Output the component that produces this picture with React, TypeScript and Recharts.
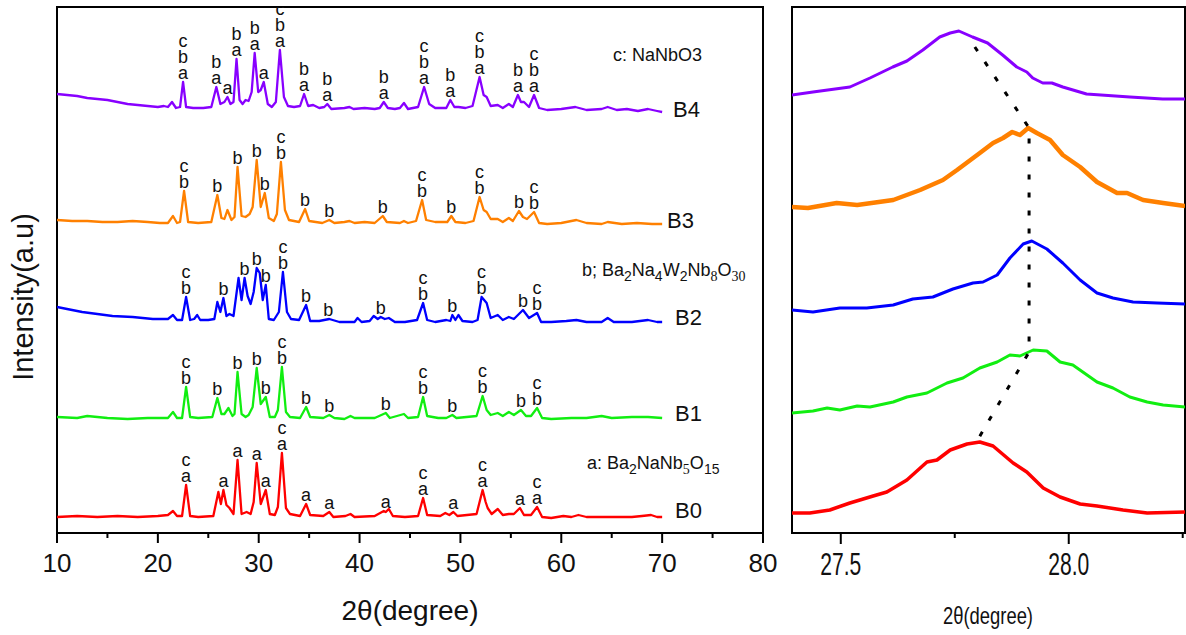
import React from 'react';
import { ComposedChart, Line, Scatter, XAxis, YAxis, ReferenceArea } from 'recharts';

type Pt = [number, number];
type Tag = { x: number; y: number; tag: string };

const SANS = "'Liberation Sans', Arial, sans-serif";

// full scans, 2θ vs stacked intensity (a.u.)
const b4Scan: Pt[] = [
  [10, 438], [11, 437], [12, 436], [13, 434], [14, 433], [15, 432], [16, 430], [17, 428], [18, 427], [19, 426],
  [20, 425], [20.6, 426], [21.0, 425], [21.4, 430], [21.8, 424], [22.2, 425], [22.5, 450], [22.8, 425], [23.5, 424],
  [24.5, 424], [25.3, 425], [25.8, 445], [26.2, 428], [26.6, 430], [26.9, 435], [27.2, 428], [27.5, 430], [27.8, 473],
  [28.1, 432], [28.4, 428], [28.7, 432], [29.0, 431], [29.3, 440], [29.6, 479], [29.95, 440], [30.2, 442], [30.5, 450],
  [30.9, 428], [31.3, 425], [31.7, 430], [32.1, 482], [32.5, 435], [32.9, 426], [33.5, 425], [34.1, 426], [34.5, 438],
  [34.9, 426], [35.4, 427], [36.0, 424], [36.5, 425], [36.8, 428], [37.2, 423], [38.5, 424], [39.0, 425], [39.4, 423],
  [40.5, 424], [41.5, 423], [42.0, 424], [42.4, 430], [42.8, 424], [43.5, 423], [44.0, 424], [44.4, 429], [44.8, 423],
  [45.8, 425], [46.4, 445], [46.9, 428], [47.5, 424], [48.6, 424], [49.0, 432], [49.4, 425], [49.8, 425], [50.5, 424],
  [51.2, 426], [51.9, 455], [52.3, 437], [52.6, 435], [53.0, 426], [53.7, 427], [54.2, 424], [54.8, 428], [55.2, 425],
  [55.7, 437], [56.0, 430], [56.3, 430], [56.8, 425], [57.3, 437], [57.8, 424], [58.6, 422], [60.0, 423], [61.4, 425],
  [62.5, 422], [64.0, 423], [64.6, 425], [65.5, 422], [66.5, 423], [67.6, 421], [68.6, 423], [69.5, 421], [70, 420],
];

const b3Scan: Pt[] = [
  [10, 312], [11.5, 311], [13, 311], [14.5, 310], [16, 310], [17.5, 311], [19, 310], [20.2, 309], [21, 309], [21.5, 316],
  [21.9, 309], [22.2, 310], [22.6, 341], [23.0, 310], [24, 309], [25.3, 310], [25.9, 337], [26.3, 314], [26.6, 313],
  [26.9, 322], [27.3, 312], [27.6, 315], [27.9, 365], [28.3, 316], [28.7, 315], [29.1, 318], [29.4, 325], [29.8, 372],
  [30.2, 325], [30.6, 339], [31.0, 314], [31.5, 311], [31.8, 318], [32.2, 370], [32.6, 322], [33.0, 312], [34.0, 310],
  [34.6, 323], [35.0, 311], [36.3, 309], [37.0, 312], [37.5, 309], [38.5, 310], [39.0, 311], [39.5, 309], [40.5, 310],
  [41.5, 309], [42.3, 316], [42.7, 310], [44.0, 309], [44.4, 311], [44.8, 309], [45.6, 311], [46.2, 332], [46.6, 312],
  [47.5, 310], [48.7, 310], [49.1, 316], [49.5, 310], [50.5, 309], [51.3, 311], [51.9, 335], [52.3, 322], [52.6, 320],
  [53.0, 313], [53.7, 313], [54.2, 310], [54.8, 314], [55.2, 311], [55.8, 321], [56.2, 315], [56.6, 313], [57.3, 320],
  [57.8, 309], [58.6, 308], [60.0, 309], [61.5, 312], [62.5, 309], [64.0, 308], [64.6, 310], [66.0, 308], [67.5, 309],
  [69.0, 308], [70, 308],
];

const b2Scan: Pt[] = [
  [10, 225], [11, 223], [12.5, 220], [14, 218], [15.5, 216], [17.5, 215], [19.5, 213], [21.0, 213], [21.5, 217],
  [21.9, 212], [22.4, 212], [22.8, 235], [23.2, 212], [23.6, 213], [23.9, 217], [24.2, 212], [25.0, 212], [25.6, 213],
  [25.9, 230], [26.2, 220], [26.5, 234], [26.8, 216], [27.1, 218], [27.5, 216], [28.0, 254], [28.3, 232], [28.6, 254],
  [28.9, 236], [29.2, 228], [29.5, 240], [29.8, 264], [30.1, 259], [30.4, 232], [30.7, 247], [31.0, 213], [31.5, 212],
  [32.0, 220], [32.4, 260], [32.8, 220], [33.2, 213], [34.0, 212], [34.7, 227], [35.1, 211], [36.0, 211], [37.0, 213],
  [38.0, 210], [39.5, 210], [39.8, 214], [40.2, 210], [41.0, 211], [41.4, 216], [41.8, 213], [42.1, 215], [42.5, 213],
  [42.9, 214], [43.5, 210], [44.5, 210], [45.7, 212], [46.3, 229], [46.7, 212], [47.5, 210], [48.6, 212], [49.0, 211],
  [49.2, 217], [49.5, 212], [49.8, 217], [50.2, 211], [51.2, 210], [51.7, 212], [52.1, 235], [52.6, 229], [53.0, 214],
  [53.7, 217], [54.2, 212], [54.8, 215], [55.3, 213], [56.2, 222], [56.8, 214], [57.6, 219], [58.0, 210], [59.0, 210],
  [60.5, 211], [61.5, 212], [62.5, 210], [64.0, 210], [64.6, 214], [65.2, 210], [67.0, 210], [68.6, 212], [69.5, 210],
  [70, 210],
];

const b1Scan: Pt[] = [
  [10, 115], [12, 114], [13, 116], [15, 114], [17, 113], [19, 114], [21.0, 114], [21.5, 120], [21.9, 114], [22.4, 114],
  [22.8, 145], [23.2, 115], [24.0, 114], [25.4, 115], [25.9, 134], [26.3, 118], [26.6, 118], [27.0, 124], [27.4, 116],
  [27.6, 118], [27.9, 160], [28.3, 118], [28.7, 115], [29.0, 117], [29.4, 125], [29.8, 164], [30.2, 128], [30.7, 135],
  [31.1, 115], [31.6, 115], [31.9, 122], [32.3, 165], [32.7, 120], [33.1, 115], [34.1, 114], [34.7, 125], [35.1, 115],
  [36.4, 114], [37.0, 117], [37.5, 114], [38.5, 113], [39.1, 116], [39.5, 114], [41.5, 114], [42.6, 119], [43.0, 114],
  [44.4, 118], [44.8, 114], [45.8, 115], [46.3, 135], [46.7, 116], [47.8, 114], [48.6, 114], [49.2, 117], [49.6, 114],
  [51.6, 116], [52.2, 136], [52.6, 122], [53.0, 117], [53.7, 119], [54.2, 116], [54.8, 120], [55.3, 117], [56.0, 122],
  [56.5, 116], [57.0, 116], [57.6, 124], [58.1, 114], [59.0, 113], [61.0, 114], [62.5, 114], [64.0, 116], [65.0, 114],
  [67.0, 115], [68.6, 115], [70, 114],
];

const b0Scan: Pt[] = [
  [10, 15], [12, 16], [14, 15], [16, 16], [18, 15], [20, 16], [21.0, 17], [21.5, 21], [21.9, 16], [22.4, 16], [22.8, 47],
  [23.2, 16], [24.0, 15], [25.5, 16], [26.0, 40], [26.25, 28], [26.5, 42], [26.8, 27], [27.1, 24], [27.5, 18], [27.9, 72],
  [28.3, 18], [28.8, 20], [29.2, 18], [29.5, 30], [29.8, 69], [30.2, 28], [30.7, 42], [31.1, 18], [31.6, 17], [31.9, 25],
  [32.3, 79], [32.7, 24], [33.1, 18], [34.1, 16], [34.7, 28], [35.1, 17], [36.4, 16], [37.0, 20], [37.4, 15], [38.6, 16],
  [39.1, 18], [39.5, 15], [41.5, 16], [42.4, 21], [42.6, 20], [42.9, 23], [43.3, 16], [44.5, 15], [45.8, 16], [46.3, 34],
  [46.7, 17], [48.0, 16], [48.5, 19], [48.9, 17], [49.3, 20], [49.7, 16], [51.6, 18], [52.2, 42], [52.5, 30], [52.7, 24],
  [53.1, 18], [53.7, 23], [54.2, 17], [54.8, 18], [55.3, 18], [55.9, 24], [56.3, 17], [57.0, 17], [57.6, 25], [58.1, 15],
  [59.0, 14], [60.2, 16], [61.0, 15], [61.7, 17], [62.5, 15], [64.0, 15], [65.5, 15], [67.0, 15], [68.0, 16], [68.9, 17],
  [69.5, 15], [70, 15],
];

// phase assignments (a, b, c) over the reflections
const b4Tags: Tag[] = [
  { x: 22.5, y: 450, tag: 'cba' }, { x: 25.8, y: 445, tag: 'ba' }, { x: 26.9, y: 435, tag: 'a' },
  { x: 27.8, y: 473, tag: 'ba' }, { x: 29.6, y: 479, tag: 'ba' }, { x: 30.5, y: 450, tag: 'a' },
  { x: 32.1, y: 482, tag: 'cba' }, { x: 34.5, y: 438, tag: 'ba' }, { x: 36.8, y: 428, tag: 'ba' },
  { x: 42.4, y: 430, tag: 'ba' }, { x: 46.4, y: 445, tag: 'cba' }, { x: 49.0, y: 432, tag: 'ba' },
  { x: 51.9, y: 455, tag: 'cba' }, { x: 55.7, y: 437, tag: 'ba' }, { x: 57.3, y: 437, tag: 'cba' },
];
const b3Tags: Tag[] = [
  { x: 22.6, y: 341, tag: 'cb' }, { x: 25.9, y: 337, tag: 'b' }, { x: 27.9, y: 365, tag: 'b' },
  { x: 29.8, y: 372, tag: 'b' }, { x: 30.6, y: 339, tag: 'b' }, { x: 32.2, y: 370, tag: 'cb' },
  { x: 34.6, y: 323, tag: 'b' }, { x: 37.0, y: 312, tag: 'b' }, { x: 42.3, y: 316, tag: 'b' },
  { x: 46.2, y: 332, tag: 'cb' }, { x: 49.1, y: 316, tag: 'b' }, { x: 51.9, y: 335, tag: 'cb' },
  { x: 55.8, y: 321, tag: 'b' }, { x: 57.3, y: 320, tag: 'cb' },
];
const b2Tags: Tag[] = [
  { x: 22.8, y: 235, tag: 'cb' }, { x: 26.5, y: 234, tag: 'b' }, { x: 28.6, y: 254, tag: 'b' },
  { x: 29.8, y: 264, tag: 'b' }, { x: 30.7, y: 247, tag: 'b' }, { x: 32.4, y: 260, tag: 'cb' },
  { x: 34.7, y: 227, tag: 'b' }, { x: 36.9, y: 213, tag: 'b' }, { x: 42.1, y: 215, tag: 'b' },
  { x: 46.3, y: 229, tag: 'cb' }, { x: 49.2, y: 217, tag: 'b' }, { x: 52.1, y: 235, tag: 'cb' },
  { x: 56.2, y: 222, tag: 'b' }, { x: 57.6, y: 219, tag: 'cb' },
];
const b1Tags: Tag[] = [
  { x: 22.8, y: 145, tag: 'cb' }, { x: 25.9, y: 134, tag: 'b' }, { x: 27.9, y: 160, tag: 'b' },
  { x: 29.8, y: 164, tag: 'b' }, { x: 30.7, y: 135, tag: 'b' }, { x: 32.3, y: 165, tag: 'cb' },
  { x: 34.7, y: 125, tag: 'b' }, { x: 37.0, y: 117, tag: 'b' }, { x: 42.6, y: 119, tag: 'b' },
  { x: 46.3, y: 135, tag: 'cb' }, { x: 49.2, y: 117, tag: 'b' }, { x: 52.2, y: 136, tag: 'cb' },
  { x: 56.0, y: 122, tag: 'b' }, { x: 57.6, y: 124, tag: 'cb' },
];
const b0Tags: Tag[] = [
  { x: 22.8, y: 47, tag: 'ca' }, { x: 26.5, y: 42, tag: 'a' }, { x: 27.9, y: 72, tag: 'a' },
  { x: 29.8, y: 69, tag: 'a' }, { x: 30.7, y: 42, tag: 'a' }, { x: 32.3, y: 79, tag: 'ca' },
  { x: 34.7, y: 28, tag: 'a' }, { x: 37.0, y: 20, tag: 'a' }, { x: 42.6, y: 21, tag: 'a' },
  { x: 46.3, y: 34, tag: 'ca' }, { x: 49.3, y: 20, tag: 'a' }, { x: 52.2, y: 42, tag: 'ca' },
  { x: 55.9, y: 24, tag: 'a' }, { x: 57.6, y: 25, tag: 'ca' },
];

// zoom on the (b) reflection near 27.9°
const b4Zoom: Pt[] = [
  [27.393, 437], [27.439, 440], [27.52, 445], [27.564, 454], [27.614, 465], [27.645, 471], [27.68, 482], [27.717, 495],
  [27.74, 499], [27.759, 501], [27.789, 495], [27.822, 489], [27.855, 477], [27.886, 465], [27.908, 460], [27.921, 454],
  [27.943, 449], [27.963, 449], [27.987, 445], [28.039, 438], [28.134, 435], [28.206, 433], [28.255, 433],
];
const b3Zoom: Pt[] = [
  [27.393, 325], [27.428, 324], [27.491, 329], [27.536, 327], [27.615, 332], [27.674, 342], [27.724, 352], [27.755, 362],
  [27.805, 379], [27.834, 389], [27.856, 394], [27.876, 400], [27.893, 397], [27.911, 404], [27.93, 399], [27.959, 392],
  [27.987, 377], [28.025, 365], [28.062, 350], [28.106, 339], [28.128, 339], [28.163, 332], [28.207, 329], [28.255, 326],
];
const b2Zoom: Pt[] = [
  [27.393, 222], [27.439, 220], [27.498, 224], [27.557, 224], [27.615, 227], [27.658, 233], [27.702, 235], [27.746, 243],
  [27.79, 249], [27.812, 250], [27.843, 257], [27.871, 274], [27.9, 288], [27.919, 291], [27.952, 283], [27.987, 269],
  [28.025, 252], [28.062, 239], [28.097, 234], [28.141, 230], [28.194, 229], [28.255, 228],
];
const b1Zoom: Pt[] = [
  [27.393, 119], [27.439, 121], [27.47, 124], [27.498, 122], [27.536, 126], [27.564, 125], [27.615, 130], [27.645, 135],
  [27.689, 139], [27.733, 149], [27.768, 154], [27.805, 164], [27.843, 170], [27.871, 177], [27.893, 176], [27.922, 182],
  [27.952, 181], [27.981, 170], [28.009, 167], [28.062, 150], [28.097, 144], [28.134, 135], [28.172, 130], [28.207, 127],
  [28.255, 125],
];
const b0Zoom: Pt[] = [
  [27.393, 19], [27.432, 19], [27.476, 22], [27.52, 29], [27.571, 36], [27.601, 40], [27.645, 52], [27.689, 70],
  [27.711, 72], [27.74, 82], [27.777, 88], [27.805, 90], [27.834, 86], [27.878, 69], [27.908, 60], [27.944, 44],
  [27.981, 35], [28.025, 28], [28.062, 26], [28.119, 22], [28.172, 19], [28.255, 20],
];
// peak-shift guide
const shiftGuide: Pt[] = [[27.794, 485], [27.913, 404], [27.913, 180], [27.8, 92]];

const SAMPLES = [
  { name: 'B4', color: '#8800ff', scan: b4Scan, tags: b4Tags, zoom: b4Zoom, zw: 3, lx: 673, ly: 117 },
  { name: 'B3', color: '#ff8000', scan: b3Scan, tags: b3Tags, zoom: b3Zoom, zw: 4.5, lx: 667, ly: 228 },
  { name: 'B2', color: '#0000ff', scan: b2Scan, tags: b2Tags, zoom: b2Zoom, zw: 3, lx: 675, ly: 325 },
  { name: 'B1', color: '#11ee11', scan: b1Scan, tags: b1Tags, zoom: b1Zoom, zw: 3, lx: 675, ly: 421 },
  { name: 'B0', color: '#ff0000', scan: b0Scan, tags: b0Tags, zoom: b0Zoom, zw: 3.5, lx: 675, ly: 518 },
];

const rows = (pts: Pt[]) => pts.map(([x, y]) => ({ x, y }));

// letters stacked bottom-up above the peak apex
const TagStack = (props: any) => {
  const { cx, cy, payload } = props;
  const letters: string[] = payload.tag.split('');
  const n = letters.length;
  return (
    <g>
      {letters.map((ch, i) => (
        <text key={i} x={cx} y={cy - 3 - (n - 1 - i) * 16} textAnchor="middle" fontSize={18} fontFamily={SANS} fill="#111">
          {ch}
        </text>
      ))}
    </g>
  );
};

const WideTick = (props: any) => {
  const { x, y, payload } = props;
  const major = payload.value % 10 === 0;
  return (
    <g>
      <line x1={x} x2={x} y1={y} y2={y + (major ? 10 : 5)} stroke="#000" strokeWidth={2} />
      {major && (
        <text x={x} y={y + 39} textAnchor="middle" fontSize={26} fontFamily={SANS} fill="#111">
          {payload.value}
        </text>
      )}
    </g>
  );
};

const NarrowTick = (props: any) => {
  const { x, y, payload } = props;
  const major = Math.abs(payload.value * 2 - Math.round(payload.value * 2)) < 1e-6;
  return (
    <g>
      <line x1={x} x2={x} y1={y} y2={y + (major ? 11 : 5)} stroke="#000" strokeWidth={2} />
      {major && (
        <text x={x} y={y + 42} textAnchor="middle" fontSize={31} fontFamily={SANS} fill="#111"
          textLength={41} lengthAdjust="spacingAndGlyphs">
          {payload.value.toFixed(1)}
        </text>
      )}
    </g>
  );
};

type Part = [string, boolean?, boolean?];
const Formula = ({ x, y, parts }: { x: number; y: number; parts: Part[] }) => {
  let low = false;
  return (
    <text x={x} y={y} fontSize={18} fontFamily={SANS} fill="#111">
      {parts.map(([t, sub, serif], i) => {
        const dy = sub && !low ? 5 : !sub && low ? -5 : 0;
        low = !!sub;
        return (
          <tspan key={i} dy={dy} fontSize={sub ? 14 : 18} fontFamily={serif ? "'Liberation Serif', serif" : SANS}>
            {t}
          </tspan>
        );
      })}
    </text>
  );
};

const phaseC: Part[] = [['c: NaNbO3']];
const phaseB: Part[] = [['b; Ba'], ['2', true], ['Na'], ['4', true], ['W'], ['2', true], ['Nb'], ['8', true, true], ['O'], ['30', true, true]];
const phaseA: Part[] = [['a: Ba'], ['2', true], ['NaNb'], ['5', true, true], ['O'], ['15', true]];

export default function App() {
  return (
    <div style={{ position: 'absolute', left: 0, top: 0, width: 1186, height: 635, background: '#fff' }}>
      <div style={{ position: 'absolute', left: 0, top: 0 }}>
        <ComposedChart width={780} height={635} margin={{ top: 7, right: 17, bottom: 42, left: 57 }}>
          <XAxis type="number" dataKey="x" domain={[10, 80]} ticks={[10, 15, 20, 25, 30, 35, 40, 45, 50, 55, 60, 65, 70, 75, 80]}
            interval={0} height={60} axisLine={false} tickLine={false} tickSize={0} tickMargin={0} tick={<WideTick />}
            allowDataOverflow />
          <YAxis type="number" domain={[-1, 525]} hide allowDataOverflow />
          <ReferenceArea x1={10} x2={80} y1={-1} y2={525} fill="none" stroke="#000" strokeWidth={2} ifOverflow="visible" />
          {SAMPLES.map((s) => (
            <Line key={s.name} data={rows(s.scan)} dataKey="y" type="linear" stroke={s.color} strokeWidth={2.3}
              strokeLinejoin="round" dot={false} isAnimationActive={false} />
          ))}
          {SAMPLES.map((s) => (
            <Scatter key={s.name + '-tags'} data={s.tags} dataKey="y" shape={TagStack} isAnimationActive={false} />
          ))}
        </ComposedChart>
      </div>
      <div style={{ position: 'absolute', left: 780, top: 0 }}>
        <ComposedChart width={406} height={635} margin={{ top: 7, right: 1, bottom: 42, left: 12 }}>
          <XAxis type="number" dataKey="x" domain={[27.393, 28.255]} ticks={[27.5, 27.75, 28.0, 28.25]} interval={0}
            height={60} axisLine={false} tickLine={false} tickSize={0} tickMargin={0} tick={<NarrowTick />}
            allowDataOverflow />
          <YAxis type="number" domain={[-1, 525]} hide allowDataOverflow />
          <ReferenceArea x1={27.393} x2={28.255} y1={-1} y2={525} fill="none" stroke="#000" strokeWidth={2} ifOverflow="visible" />
          {SAMPLES.map((s) => (
            <Line key={s.name} data={rows(s.zoom)} dataKey="y" type="linear" stroke={s.color} strokeWidth={s.zw}
              strokeLinejoin="round" dot={false} isAnimationActive={false} />
          ))}
          <Line data={rows(shiftGuide)} dataKey="y" type="linear" stroke="#000" strokeWidth={3}
            strokeDasharray="5 13" dot={false} isAnimationActive={false} />
        </ComposedChart>
      </div>
      <svg width={1186} height={635} style={{ position: 'absolute', left: 0, top: 0, pointerEvents: 'none' }}>
        <text transform="translate(33,297) rotate(-90)" textAnchor="middle" fontSize={29} fontFamily={SANS} fill="#111">
          Intensity(a.u)
        </text>
        <text x={410} y={620} textAnchor="middle" fontSize={28} fontFamily={SANS} fill="#111">2θ(degree)</text>
        <text x={988} y={624} textAnchor="middle" fontSize={24} fontFamily={SANS} fill="#111"
          textLength={90} lengthAdjust="spacingAndGlyphs">2θ(degree)</text>
        {SAMPLES.map((s) => (
          <text key={s.name} x={s.lx} y={s.ly} fontSize={22} fontFamily={SANS} fill="#111">{s.name}</text>
        ))}
        <Formula x={613} y={61} parts={phaseC} />
        <Formula x={582} y={276} parts={phaseB} />
        <Formula x={587} y={469} parts={phaseA} />
      </svg>
    </div>
  );
}
